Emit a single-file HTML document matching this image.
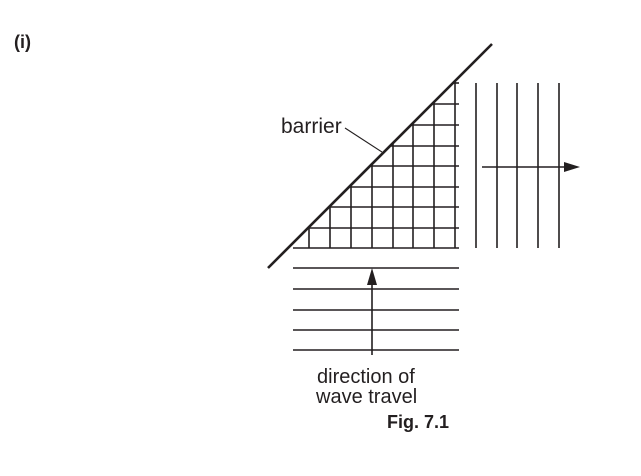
<!DOCTYPE html>
<html><head><meta charset="utf-8"><style>
html,body{margin:0;padding:0;background:#fff;}
svg{display:block;}
text{font-family:"Liberation Sans",Arial,sans-serif;fill:#231f20;}
</style></head><body>
<svg width="641" height="476" viewBox="0 0 641 476" xmlns="http://www.w3.org/2000/svg">
<text x="14" y="48" font-size="18" font-weight="bold">(i)</text>
<g stroke="#231f20" stroke-width="1.6" fill="none">
<!-- grid horizontals -->
<line x1="453" y1="83" x2="459" y2="83"/>
<line x1="432" y1="104" x2="459" y2="104"/>
<line x1="411" y1="125" x2="459" y2="125"/>
<line x1="390" y1="146" x2="459" y2="146"/>
<line x1="370" y1="166" x2="459" y2="166"/>
<line x1="349" y1="187" x2="459" y2="187"/>
<line x1="329" y1="207" x2="459" y2="207"/>
<line x1="308" y1="228" x2="459" y2="228"/>
<line x1="293" y1="248" x2="459" y2="248"/>
<!-- grid verticals -->
<line x1="309" y1="227" x2="309" y2="248"/>
<line x1="330" y1="206" x2="330" y2="248"/>
<line x1="351" y1="185" x2="351" y2="248"/>
<line x1="372" y1="164" x2="372" y2="248"/>
<line x1="393" y1="143" x2="393" y2="248"/>
<line x1="413" y1="123" x2="413" y2="248"/>
<line x1="434" y1="102" x2="434" y2="248"/>
<line x1="455" y1="82" x2="455" y2="248"/>
<!-- right verticals -->
<line x1="476" y1="83" x2="476" y2="248"/>
<line x1="497" y1="83" x2="497" y2="248"/>
<line x1="517" y1="83" x2="517" y2="248"/>
<line x1="538" y1="83" x2="538" y2="248"/>
<line x1="559" y1="83" x2="559" y2="248"/>
<line x1="482" y1="167" x2="568" y2="167"/>
<!-- bottom lines -->
<line x1="293" y1="268" x2="459" y2="268"/>
<line x1="293" y1="289" x2="459" y2="289"/>
<line x1="293" y1="310" x2="459" y2="310"/>
<line x1="293" y1="330" x2="459" y2="330"/>
<line x1="293" y1="350" x2="459" y2="350"/>
<line x1="372" y1="355" x2="372" y2="282"/>
<!-- leader -->
<line x1="345" y1="128" x2="382" y2="152" stroke-width="1.1"/>
<!-- barrier -->
<line x1="268" y1="268" x2="492" y2="44" stroke-width="2.6"/>
</g>
<polygon points="580,167 564,162 564,172" fill="#231f20"/>
<polygon points="372,268 367,285 377,285" fill="#231f20"/>
<text x="281" y="133" font-size="21">barrier</text>
<text x="317" y="383" font-size="20">direction of</text>
<text x="316" y="403" font-size="20">wave travel</text>
<text x="387" y="428" font-size="18" font-weight="bold">Fig. 7.1</text>
</svg>
</body></html>
